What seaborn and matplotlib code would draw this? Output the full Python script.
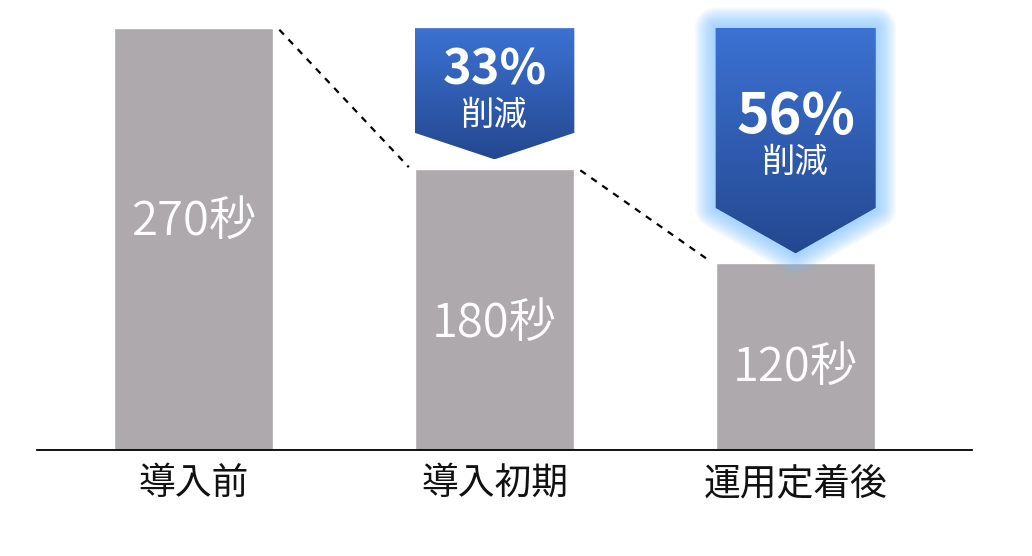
import numpy as np
import pandas as pd
import matplotlib
matplotlib.use('Agg')
import matplotlib.pyplot as plt
import seaborn as sns
from matplotlib.patches import Polygon
from matplotlib.colors import LinearSegmentedColormap
import matplotlib.patheffects as pe

# data
stages = ['導入前', '導入初期', '運用定着後']
seconds = [270, 180, 120]
value_labels = ['270秒', '180秒', '120秒']
reductions = ['', '33%', '56%']

sns.set_theme(style='white')
plt.rcParams['font.family'] = ['Noto Sans CJK JP', 'DejaVu Sans']

df = pd.DataFrame({'stage': stages, 'sec': seconds})

fig = plt.figure(figsize=(10.32, 5.56), dpi=100)
ax = fig.add_axes([37 / 1032, 106 / 556, 935 / 1032, 450 / 556])
bar_w = 0.53
sns.barplot(data=df, x='stage', y='sec', color='#ADA9AC', width=bar_w,
            saturation=1, ax=ax, zorder=2)

ax.set_xlabel('')
ax.set_ylabel('')
ax.set_yticks([])
for s in ['top', 'left', 'right']:
    ax.spines[s].set_visible(False)
ax.spines['bottom'].set_color('black')
ax.spines['bottom'].set_linewidth(1.3)
ax.tick_params(axis='x', length=0, labelsize=26.5, pad=10, labelcolor='#111111')

# value labels inside bars
label_frac = [0.54, 0.45, 0.44]
for i, (v, lab) in enumerate(zip(seconds, value_labels)):
    ax.text(i, v * label_frac[i], lab, ha='center', va='center',
            color='white', fontsize=34, fontweight=350)

# dashed connectors between bar tops
for i in range(len(seconds) - 1):
    x0 = i + bar_w / 2 + 0.02
    x1 = i + 1 - bar_w / 2 - 0.02
    ax.plot([x0, x1], [seconds[i] - 1, seconds[i + 1] + 1], color='black',
            lw=1.6, ls=(0, (3, 3)), zorder=1)

# reduction arrows
cmap = LinearSegmentedColormap.from_list('arrow', ['#244890', '#3C72D3'])
grad = np.linspace(0, 1, 256).reshape(-1, 1)
drops = [0, 17, 29]
top = seconds[0]
for i in [1, 2]:
    left, right = i - bar_w / 2, i + bar_w / 2
    point = seconds[i] + 6
    shoulder = point + drops[i]
    verts = [(left, top), (right, top), (right, shoulder), (i, point), (left, shoulder)]
    if i == 2:
        glow = Polygon(verts, closed=True, facecolor='#2a55a8', lw=0, zorder=2.5)
        effects = [pe.Stroke(linewidth=w, foreground='#7cc2ff', alpha=0.065,
                             joinstyle='round') for w in range(30, 0, -2)]
        glow.set_path_effects(effects + [pe.Normal()])
        ax.add_patch(glow)
    poly = Polygon(verts, closed=True, facecolor='none', edgecolor='none', zorder=3)
    ax.add_patch(poly)
    im = ax.imshow(grad, cmap=cmap, origin='lower', aspect='auto',
                   extent=[left, right, point, top], zorder=3)
    im.set_clip_path(poly)
    mid = (top + point) / 2
    size = 35 if i == 1 else 40
    ax.text(i, mid + 15, reductions[i], ha='center', va='center', color='white',
            fontsize=size, fontweight='bold', zorder=4)
    ax.text(i, mid - 14, '削減', ha='center', va='center', color='white',
            fontsize=24, zorder=4)

ax.set_xlim(-0.52, 2.586)
ax.set_ylim(0, 288)
fig.savefig('out.png', dpi=100, facecolor='white')
